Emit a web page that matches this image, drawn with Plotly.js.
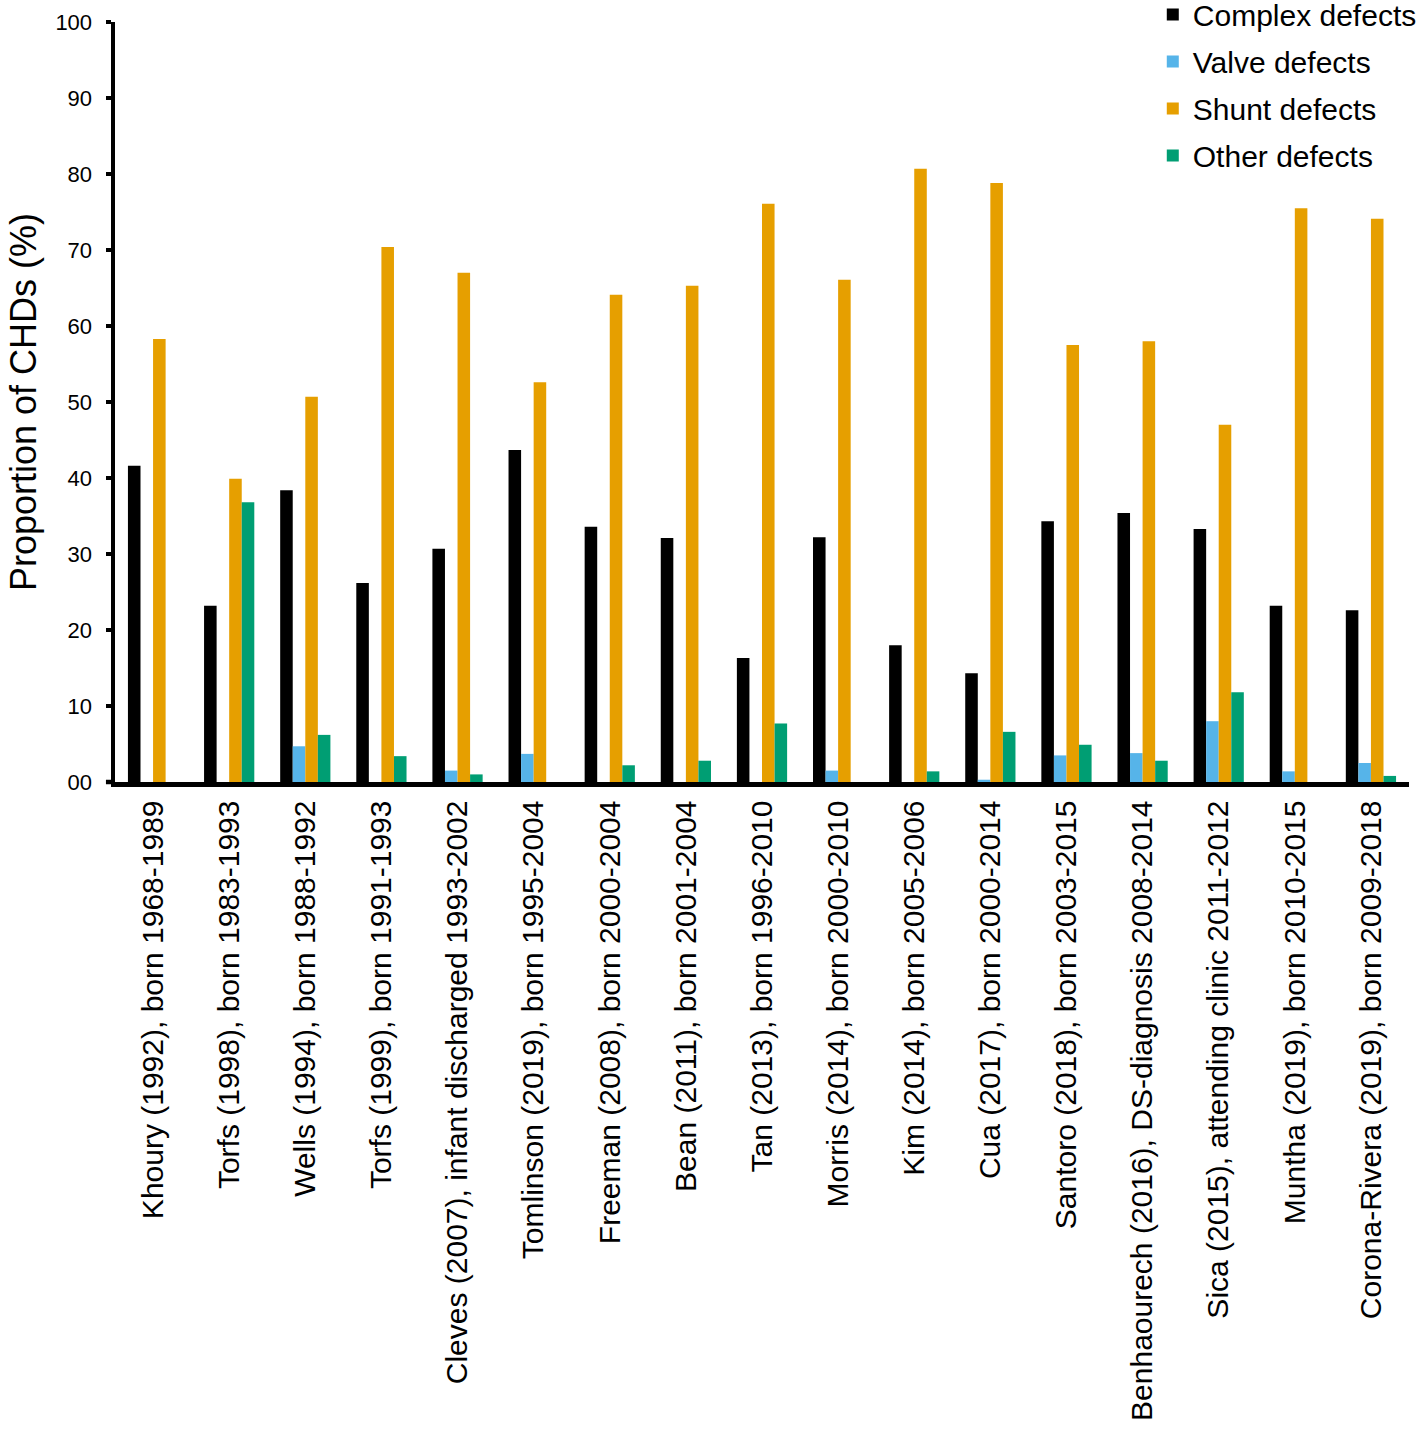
<!DOCTYPE html>
<html>
<head>
<meta charset="utf-8">
<script src="https://cdn.plot.ly/plotly-3.0.1.min.js"></script>
<style>html,body{margin:0;padding:0;background:#fff;}#chart{width:1418px;height:1429px;}</style>
</head>
<body>
<div id="chart"></div>
<script>
const categories = [
  "Khoury (1992), born 1968-1989",
  "Torfs (1998), born 1983-1993",
  "Wells (1994), born 1988-1992",
  "Torfs (1999), born 1991-1993",
  "Cleves (2007), infant discharged 1993-2002",
  "Tomlinson (2019), born 1995-2004",
  "Freeman (2008), born 2000-2004",
  "Bean (2011), born 2001-2004",
  "Tan (2013), born 1996-2010",
  "Morris (2014), born 2000-2010",
  "Kim (2014), born 2005-2006",
  "Cua (2017), born 2000-2014",
  "Santoro (2018), born 2003-2015",
  "Benhaourech (2016), DS-diagnosis 2008-2014",
  "Sica (2015), attending clinic 2011-2012",
  "Muntha (2019), born 2010-2015",
  "Corona-Rivera (2019), born 2009-2018"
];
const complexDefects = [41.6, 23.2, 38.4, 26.2, 30.7, 43.7, 33.6, 32.1, 16.3, 32.2, 18.0, 14.3, 34.3, 35.4, 33.3, 23.2, 22.6];
const valveDefects   = [0, 0, 4.7, 0, 1.5, 3.7, 0, 0, 0, 1.5, 0, 0.3, 3.5, 3.8, 8.0, 1.4, 2.5];
const shuntDefects   = [58.3, 39.9, 50.7, 70.4, 67.0, 52.6, 64.1, 65.3, 76.1, 66.1, 80.7, 78.8, 57.5, 58.0, 47.0, 75.5, 74.1];
const otherDefects   = [0, 36.8, 6.2, 3.4, 1.0, 0, 2.2, 2.8, 7.7, 0, 1.4, 6.6, 4.9, 2.8, 11.8, 0, 0.8];
const yTickVals = [0, 10, 20, 30, 40, 50, 60, 70, 80, 90, 100];
const yTickText = ["00", "10", "20", "30", "40", "50", "60", "70", "80", "90", "100"];

const seriesNames = ["Complex defects", "Valve defects", "Shunt defects", "Other defects"];
const seriesColors = ["#000000", "#56B4E9", "#E69F00", "#009E73"];
const seriesValues = [complexDefects, valveDefects, shuntDefects, otherDefects];

const traces = seriesNames.map((name, i) => ({
  type: "bar",
  name: name,
  x: categories,
  y: seriesValues[i],
  marker: {color: seriesColors[i], line: {width: 0}},
  legendgroup: "g" + i,
  hoverinfo: "x+y"
}));

const font = "Liberation Sans, Arial, Helvetica, sans-serif";
const layout = {
  width: 1418,
  height: 1429,
  margin: {l: 115, r: 9, t: 22, b: 647, pad: 0, autoexpand: false},
  paper_bgcolor: "#ffffff",
  plot_bgcolor: "#ffffff",
  font: {family: font, color: "#000000"},
  barmode: "group",
  bargap: 0.34,
  bargroupgap: 0,
  showlegend: true,
  legend: {
    x: 0.802, y: 1.044, xanchor: "left", yanchor: "top",
    font: {family: font, size: 30, color: "#000"},
    tracegroupgap: 5,
    itemwidth: 30,
    bgcolor: "rgba(0,0,0,0)"
  },
  shapes: [{
    type: "line", xref: "paper", yref: "paper",
    x0: -0.007, x1: 0, y0: 0, y1: 0,
    line: {color: "#000", width: 4.5}
  }],
  xaxis: {
    type: "category",
    showgrid: false,
    zeroline: false,
    showline: true,
    linecolor: "#000",
    linewidth: 4.5,
    ticks: "",
    tickangle: -90,
    ticklabelstandoff: 2,
    tickfont: {family: font, size: 30, color: "#000"},
    automargin: false
  },
  yaxis: {
    range: [0, 100],
    tickvals: yTickVals,
    ticktext: yTickText,
    showgrid: false,
    zeroline: false,
    showline: true,
    linecolor: "#000",
    linewidth: 4.5,
    ticks: "outside",
    ticklen: 5,
    tickwidth: 4,
    tickcolor: "#000",
    ticklabelstandoff: 9,
    tickfont: {family: font, size: 22, color: "#000"},
    title: {text: "Proportion of CHDs (%)", font: {family: font, size: 36, color: "#000"}, standoff: 9},
    automargin: false
  }
};

Plotly.newPlot("chart", traces, layout, {displayModeBar: false, staticPlot: true});
</script>
</body>
</html>
